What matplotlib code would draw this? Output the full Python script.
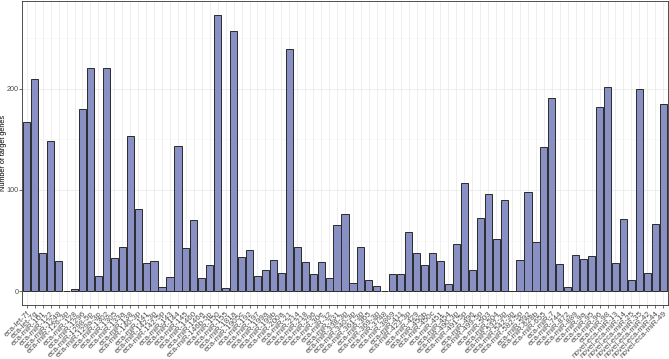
import matplotlib
matplotlib.use("Agg")
import matplotlib.pyplot as plt
import numpy as np

plt.rcParams['font.family'] = ['Liberation Sans', 'DejaVu Sans']

mirnas = ["eca-let-7f", "eca-let-7g", "eca-miR-101", "eca-miR-122", "eca-miR-1248",
          "eca-miR-126-3p", "eca-miR-128", "eca-miR-1296", "eca-miR-1298-5p", "eca-miR-129a-3p",
          "eca-miR-1302", "eca-miR-1305", "eca-miR-133a", "eca-miR-138", "eca-miR-140-3p",
          "eca-miR-141", "eca-miR-142-3p", "eca-miR-142-5p", "eca-miR-143", "eca-miR-144",
          "eca-miR-145", "eca-miR-1460", "eca-miR-146a", "eca-miR-146b-5p", "eca-miR-150",
          "eca-miR-155", "eca-miR-181a", "eca-miR-1905c", "eca-miR-192", "eca-miR-197",
          "eca-miR-199a", "eca-miR-199b", "eca-miR-200a", "eca-miR-21", "eca-miR-214",
          "eca-miR-218", "eca-miR-296", "eca-miR-30e", "eca-miR-32", "eca-miR-331",
          "eca-miR-338-3p", "eca-miR-340-3p", "eca-miR-361-3p", "eca-miR-365", "eca-miR-369-3p",
          "eca-miR-3748", "eca-miR-3869", "eca-miR-411", "eca-miR-423-3p", "eca-miR-429",
          "eca-miR-450b", "eca-miR-450c", "eca-miR-451", "eca-miR-454", "eca-miR-490-3p",
          "eca-miR-491-5p", "eca-miR-496", "eca-miR-499-5p", "eca-miR-503", "eca-miR-504",
          "eca-miR-532-3p", "eca-miR-542-3p", "eca-miR-582-5p", "eca-miR-592", "eca-miR-628b",
          "eca-miR-655", "eca-miR-7", "eca-miR-744", "eca-miR-872", "eca-miR-889",
          "eca-miR-9a", "eca-miR-95", "eca-miR-96", "eca-miR-98", "novel-eca-miR-13",
          "novel-eca-miR-14", "novel-eca-miR-25", "novel-eca-miR-35", "novel-eca-miR-42",
          "novel-eca-miR-44", "novel-eca-miR-49"]

n_targets = [167, 210, 38, 148, 30, 0, 2, 180, 220, 15,
             220, 33, 44, 153, 81, 28, 30, 4, 14, 143,
             43, 70, 13, 26, 273, 3, 257, 34, 41, 15,
             21, 31, 18, 239, 44, 29, 17, 29, 13, 65,
             76, 8, 44, 11, 5, 0, 17, 17, 58, 38,
             26, 38, 30, 7, 47, 107, 21, 72, 96, 52,
             90, 0, 31, 98, 49, 142, 191, 27, 4, 36,
             32, 35, 182, 202, 28, 71, 11, 200, 18, 66,
             185]

fig = plt.figure(figsize=(6.69, 3.59), dpi=100)
ax = fig.add_axes([22/669, 54/359, 646/669, 304/359])

x = np.arange(len(mirnas))
ax.bar(x, n_targets, width=0.9, color="#8990C4", edgecolor="#2b2b2b", linewidth=0.7, zorder=3)

top = max(n_targets)
ax.set_ylim(-0.05*top, top*1.05)
ax.set_xlim(-0.6, len(mirnas) - 0.4)

ax.set_yticks([0, 100, 200])
ax.set_yticks([50, 150, 250], minor=True)
ax.set_xticks(x)
ax.set_xticklabels(mirnas, rotation=45, ha='right', va='top', rotation_mode='anchor',
                   fontsize=5.8, color="#4d4d4d")
ax.tick_params(axis='y', labelsize=5.2, labelcolor="#4d4d4d", length=2, width=0.5, color="#333333", pad=0.5)
ax.tick_params(axis='y', which='minor', length=0)
ax.tick_params(axis='x', length=2, width=0.5, color="#333333", pad=1.5)

ax.grid(True, which='major', color="#ebebeb", linewidth=0.6, zorder=0)
ax.grid(True, which='minor', axis='y', color="#f4f4f4", linewidth=0.4, zorder=0)
for s in ax.spines.values():
    s.set_color("#333333")
    s.set_linewidth(0.6)

ax.set_ylabel("Number of target genes", fontsize=5.2)
ax.yaxis.set_label_coords(-0.0225, 0.5)

fig.savefig("out.png", dpi=100)
